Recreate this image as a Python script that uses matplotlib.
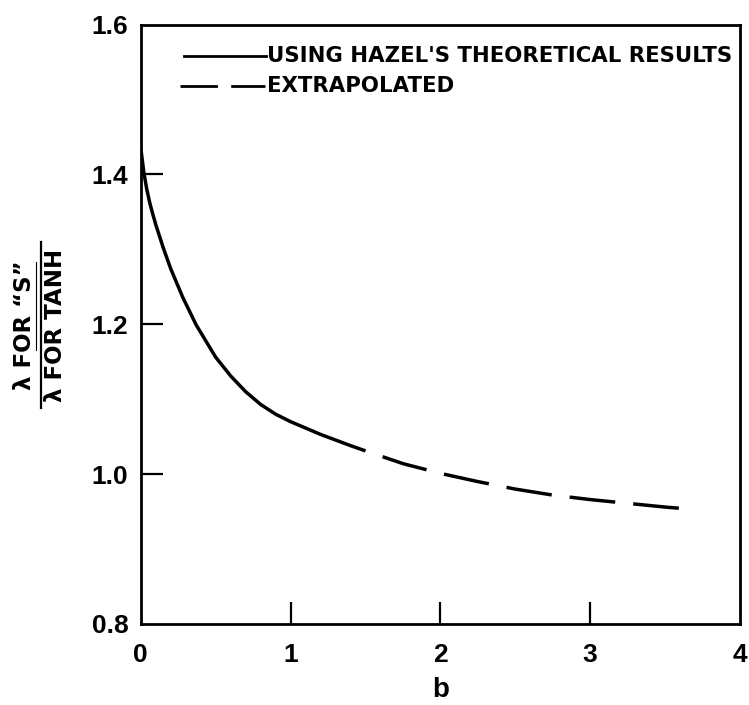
import matplotlib
matplotlib.use("Agg")
import matplotlib.pyplot as plt
from matplotlib.lines import Line2D

# === data ===
b_solid = [0.0, 0.02, 0.04, 0.06, 0.08, 0.10, 0.15, 0.20, 0.28, 0.37, 0.50, 0.60, 0.70, 0.80, 0.90, 1.00, 1.20, 1.40, 1.50]
ratio_solid = [1.435, 1.403, 1.380, 1.362, 1.347, 1.333, 1.302, 1.274, 1.236, 1.199, 1.156, 1.131, 1.110, 1.093, 1.080, 1.070, 1.053, 1.038, 1.031]

b_extrap = [1.50, 1.75, 2.00, 2.25, 2.50, 2.75, 3.00, 3.25, 3.50, 3.68]
ratio_extrap = [1.031, 1.014, 1.001, 0.990, 0.980, 0.972, 0.966, 0.961, 0.956, 0.953]

x_ticks = [0, 1, 2, 3, 4]
y_ticks = [0.8, 1.0, 1.2, 1.4, 1.6]
y_tick_labels = ["0.8", "1.0", "1.2", "1.4", "1.6"]

legend_solid = "USING HAZEL'S THEORETICAL RESULTS"
legend_dash = "EXTRAPOLATED"

num_font = ["Liberation Sans", "DejaVu Sans"]
txt_font = ["DejaVu Sans"]
plt.rcParams["lines.scale_dashes"] = False

fig = plt.figure(figsize=(7.49, 7.05), dpi=100)
ax = fig.add_axes([0.188, 0.115, 0.8, 0.85])

ax.plot(b_solid, ratio_solid, color="black", lw=2.5, solid_capstyle="butt")
ax.plot(b_extrap, ratio_extrap, color="black", lw=2.5, linestyle=(33, (33, 13)), dash_capstyle="butt")

ax.set_xlim(0, 4)
ax.set_ylim(0.8, 1.6)
for s in ax.spines.values():
    s.set_linewidth(2.0)

ax.set_xticks(x_ticks)
ax.set_xticklabels([str(t) for t in x_ticks], family=num_font, fontweight="bold", fontsize=19)
ax.set_yticks(y_ticks)
ax.set_yticklabels(y_tick_labels, family=num_font, fontweight="bold", fontsize=19)
ax.tick_params(direction="in", length=16, width=1.6)
ax.tick_params(axis="x", pad=14)
ax.tick_params(axis="y", pad=9)
# hide end ticks sitting on the frame
for t in ax.xaxis.get_major_ticks()[::4] + ax.yaxis.get_major_ticks()[::4]:
    t.tick1line.set_visible(False)

ax.set_xlabel("b", family=num_font, fontweight="bold", fontsize=20, labelpad=7)

# legend drawn by hand
ax.add_line(Line2D([0.072, 0.209], [0.948, 0.948], transform=ax.transAxes, color="black", lw=2.0))
ax.add_line(Line2D([0.065, 0.207], [0.897, 0.897], transform=ax.transAxes, color="black", lw=2.0,
                   linestyle=(0, (27, 9.5)), dash_capstyle="butt"))
ax.text(0.210, 0.948, legend_solid, transform=ax.transAxes, family=txt_font, fontweight="bold",
        fontsize=15.3, va="center", ha="left")
ax.text(0.210, 0.897, legend_dash, transform=ax.transAxes, family=txt_font, fontweight="bold",
        fontsize=15.3, va="center", ha="left")

# y label as a fraction
fig.text(25 / 749, 1 - 325 / 705, "λ FOR \u201cS\u201d", rotation=90, family=txt_font, fontweight="bold",
         fontsize=16.5, ha="center", va="center")
fig.text(56 / 749, 1 - 325 / 705, "λ FOR TANH", rotation=90, family=txt_font, fontweight="bold",
         fontsize=16.5, ha="center", va="center")
fig.add_artist(Line2D([41 / 749, 41 / 749], [1 - 242 / 705, 1 - 408 / 705], transform=fig.transFigure,
                      color="black", lw=1.6))
fig.add_artist(Line2D([36 / 749, 36 / 749], [1 - 262 / 705, 1 - 350 / 705], transform=fig.transFigure,
                      color="black", lw=0.8))

fig.savefig("out.png", dpi=100)
